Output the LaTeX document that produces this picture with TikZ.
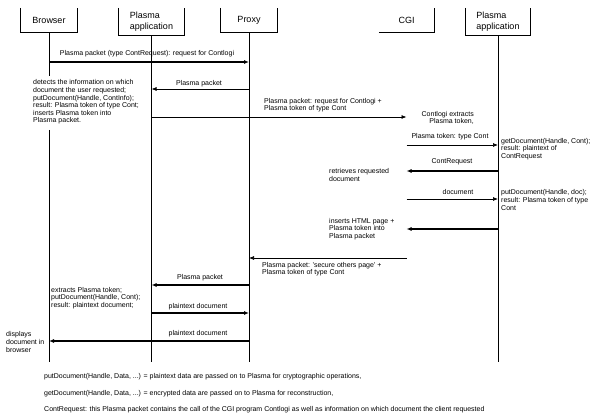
\documentclass[tikz,border=0pt]{standalone}
\usepackage{fontspec}
\setmainfont{Liberation Sans}
\usepackage{tikz}
\usetikzlibrary{arrows.meta}

\tikzset{
  actor/.style = {minimum width=56pt, minimum height=24pt, inner sep=0pt,
                  font=\fontsize{9}{11.5}\selectfont, align=left},
  life/.style = {line width=0.7pt},
  msg/.style = {line width=0.7pt, -{Latex[length=5pt,width=4pt]}},
  thickmsg/.style = {msg, line width=1.4pt},
  txt/.style = {inner sep=0pt, font=\fontsize{7}{7.6}\selectfont},
  note/.style = {txt, align=left, anchor=west},
}

\begin{document}
\begin{tikzpicture}[x=1pt, y=-1pt]
\useasboundingbox (0,0) rectangle (603,414);

% heads
\node[actor] (B)   at (49,20)    {Browser};
\node[actor, minimum width=65pt, minimum height=27pt] (PA)  at (151.5,21.5) {Plasma\\application};
\node[actor] (PX)  at (249,20)   {Proxy};
\node[actor, minimum width=55pt] (CGI) at (406.5,20) {CGI};
\node[actor, minimum width=65pt, minimum height=27pt] (PA2) at (498,21.5) {Plasma\\application};

\draw[life] (B.north west) -- (B.south west) -- (B.south east) -- (B.north east);
\draw[life] (PA.north west) -- (PA.south west) -- (PA.south east) -- (PA.north east);
\draw[life] (PX.north west) -- (PX.south west) -- (PX.south east) -- (PX.north east);
\draw[life] (CGI.south west) -- (CGI.south east) -- (CGI.north east);
\draw[life] (PA2.north west) -- (PA2.south west) -- (PA2.south east) -- (PA2.north east);

% lifelines
\coordinate (gap1)   at (0,76);
\coordinate (gap2)   at (0,130);
\coordinate (bottom) at (0,362);
\draw[life] (B) -- (B |- gap1);
\draw[life] (B |- gap2) -- (B |- bottom);
\draw[life] (PA) -- (PA |- bottom);
\draw[life] (PX) -- (PX |- bottom);
\draw[life] (PA2) -- (PA2 |- bottom);

% message rows
\coordinate (r1)  at (0,62);
\coordinate (r2)  at (0,89);
\coordinate (r3)  at (0,117);
\coordinate (r4)  at (0,145);
\coordinate (r5)  at (0,171);
\coordinate (r6)  at (0,199);
\coordinate (r7)  at (0,229);
\coordinate (r8)  at (0,258);
\coordinate (r9)  at (0,285);
\coordinate (r10) at (0,313);
\coordinate (r11) at (0,341);

\draw[thickmsg] (B |- r1)    -- (PX |- r1);
\draw[msg]      (PX |- r2)   -- (PA |- r2);
\draw[msg]      (PA |- r3)   -- (CGI |- r3);
\draw[msg]      (CGI |- r4)  -- (PA2 |- r4);
\draw[thickmsg] (PA2 |- r5)  -- (CGI |- r5);
\draw[msg]      (CGI |- r6)  -- (PA2 |- r6);
\draw[thickmsg] (PA2 |- r7)  -- (CGI |- r7);
\draw[msg]      (CGI |- r8)  -- (PX |- r8);
\draw[thickmsg] (PX |- r9)   -- (PA |- r9);
\draw[thickmsg] (PA |- r10)  -- (PX |- r10);
\draw[thickmsg] (PX |- r11)  -- (B |- r11);

% message labels
\node[txt] (l1)  at (147,54)  {Plasma packet (type ContRequest): request for Contlogi};
\node[txt] (l2)  at (199,84)  {Plasma packet};
\node[note] (l3) at (264,105) {Plasma packet: request for Contlogi +\\Plasma token of type Cont};
\node[txt] (l4)  at (450,137) {Plasma token: type Cont};
\node[txt] (l5)  at (452,162) {ContRequest};
\node[txt] (l6)  at (458,192) {document};
\node[note] (l8) at (262,269) {Plasma packet: 'secure others page' +\\Plasma token of type Cont};
\node[txt] (l9)  at (200,278) {Plasma packet};
\node[txt] (l10) at (198,307) {plaintext document};
\node[txt] (l11) at (198,334) {plaintext document};

% notes
\node[note] (n1) at (33,102)  {detects the information on which\\document the user requested;\\putDocument(Handle, ContInfo);\\result: Plasma token of type Cont;\\inserts Plasma token into\\Plasma packet.};
\node[txt, align=right, anchor=east] (n2) at (474,118) {Contlogi extracts\\Plasma token,};
\node[note] (n3) at (501,149) {getDocument(Handle, Cont);\\result: plaintext of\\ContRequest};
\node[note] (n4) at (329,175) {retrieves requested\\document};
\node[note] (n5) at (501,200) {putDocument(Handle, doc);\\result: Plasma token of type\\Cont};
\node[note] (n6) at (329,229) {inserts HTML page +\\Plasma token into\\Plasma packet};
\node[note] (n7) at (51,298)  {extracts Plasma token;\\putDocument(Handle, Cont);\\result: plaintext document;};
\node[note] (n8) at (6,342)   {displays\\document in\\browser};

% footnotes
\node[note] (f1) at (44,377) {putDocument(Handle, Data, ...) = plaintext data are passed on to Plasma for cryptographic operations,};
\node[note] (f2) at (44,394) {getDocument(Handle, Data, ...) = encrypted data are passed on to Plasma for reconstruction,};
\node[note] (f3) at (44,410) {ContRequest: this Plasma packet contains the call of the CGI program Contlogi as well as information on which document the client requested};
\end{tikzpicture}
\end{document}
